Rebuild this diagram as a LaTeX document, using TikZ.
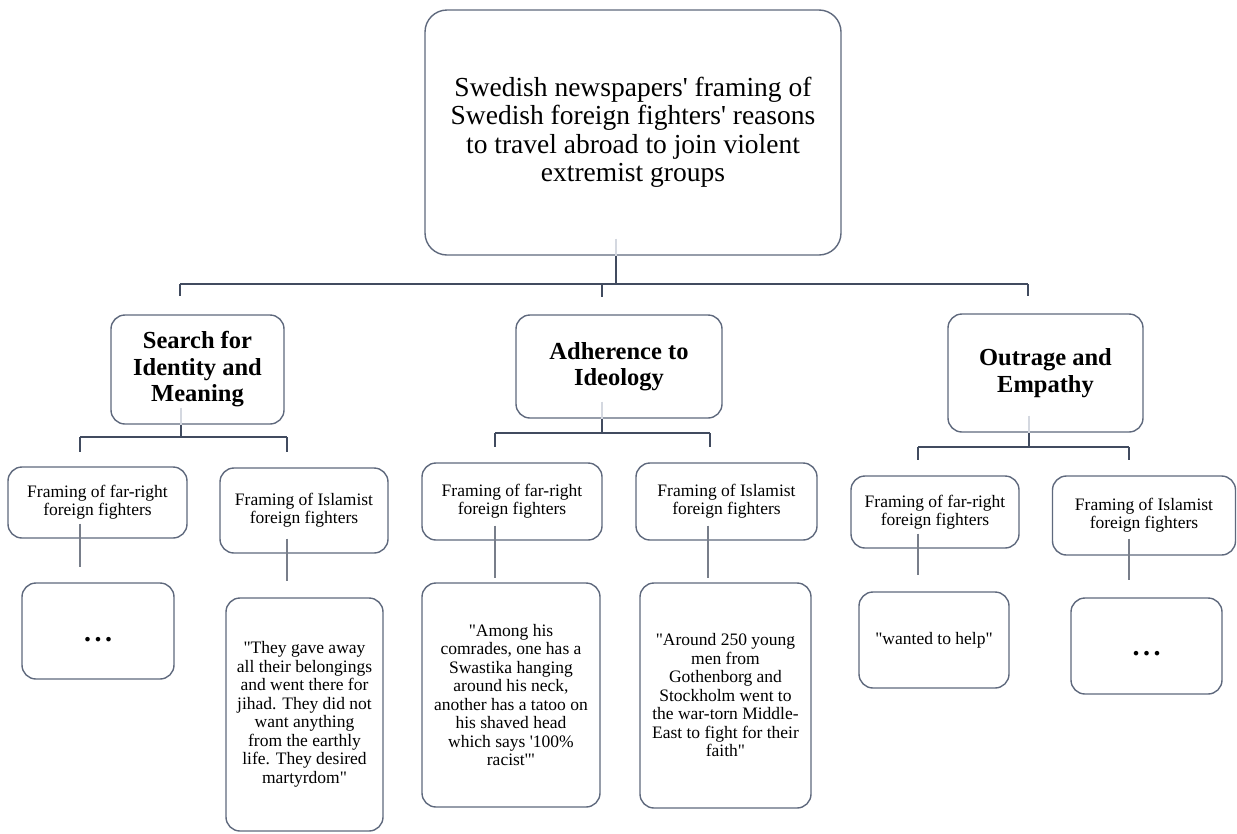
\documentclass[tikz,border=0pt]{standalone}
\usepackage{fontspec}
\setmainfont{Liberation Serif}
\usetikzlibrary{calc}
\definecolor{bordercol}{RGB}{95,105,125}
\definecolor{conncol}{RGB}{65,75,95}
\definecolor{stubcol}{RGB}{120,126,138}
\definecolor{faintcol}{RGB}{212,216,224}
\newcommand{\qq}{\textquotedbl}
\newcommand{\threedots}[1]{\raisebox{#1}[0pt][0pt]{.\hspace{3.5pt}.\hspace{3.5pt}.}}
\begin{document}
\begin{tikzpicture}[x=1pt,y=-1pt,
  box/.style={draw=bordercol, line width=1.4pt, rounded corners=14pt, fill=white, inner sep=0pt, align=center, text=black},
  topfont/.style={font=\fontsize{27.5}{28.5}\selectfont},
  catfont/.style={font=\bfseries\fontsize{24.5}{26.5}\selectfont},
  subfont/.style={font=\fontsize{17.5}{18}\selectfont},
  quotefont/.style={font=\fontsize{17.5}{18.5}\selectfont},
  dotsfont/.style={font=\bfseries\fontsize{28}{30}\selectfont},
  conn/.style={draw=conncol, line width=1.6pt},
  stub/.style={draw=stubcol, line width=1.5pt},
  faint/.style={draw=faintcol, line width=1.2pt}]
\useasboundingbox (0,0) rectangle (1237,833);

% top
\node[box, topfont, rounded corners=22pt, minimum width=416pt, minimum height=245pt] (top) at (633,132.5)
  {Swedish newspapers\textquotesingle{} framing of\\Swedish foreign fighters\textquotesingle{} reasons\\to travel abroad to join violent\\extremist groups};

% categories
\node[box, catfont, minimum width=173pt, minimum height=109pt] (search) at (197.5,369.5) {Search for\\Identity and\\Meaning};
\node[box, catfont, minimum width=206pt, minimum height=103pt] (adher) at (619,366.5) {Adherence to\\Ideology};
\node[box, catfont, minimum width=195pt, minimum height=118pt] (outr) at (1045.5,373) {Outrage and\\Empathy};

% sub boxes
\node[box, subfont, minimum width=179pt, minimum height=71pt] (fr1) at (97.5,502.5) {Framing of far-right\\foreign fighters};
\node[box, subfont, minimum width=168pt, minimum height=85pt] (is1) at (304,510.5) {Framing of Islamist\\foreign fighters};
\node[box, subfont, minimum width=180pt, minimum height=77pt] (fr2) at (512,501.5) {Framing of far-right\\foreign fighters};
\node[box, subfont, minimum width=181pt, minimum height=77pt] (is2) at (726.5,501.5) {Framing of Islamist\\foreign fighters};
\node[box, subfont, minimum width=168pt, minimum height=72pt] (fr3) at (935,512) {Framing of far-right\\foreign fighters};
\node[box, subfont, minimum width=183pt, minimum height=79pt] (is3) at (1144,515.5) {Framing of Islamist\\foreign fighters};

% quote boxes
\node[box, dotsfont, minimum width=152pt, minimum height=96pt] (q1) at (98,631) {\threedots{-10pt}};
\node[box, quotefont, minimum width=157pt, minimum height=233pt] (q2) at (304.5,714.5)
  {\qq They gave away\\all their belongings\\and went there for\\jihad. They did not\\want anything\\from the earthly\\life. They desired\\martyrdom\qq};
\node[box, quotefont, minimum width=178pt, minimum height=224pt] (q3) at (511,695)
  {\qq Among his\\comrades, one has a\\Swastika hanging\\around his neck,\\another has a tatoo on\\his shaved head\\which says \textquotesingle100\%\\racist\textquotesingle\qq};
\node[box, quotefont, minimum width=171pt, minimum height=225pt] (q4) at (725.5,695.5)
  {\qq Around 250 young\\men from\\Gothenborg and\\Stockholm went to\\the war-torn Middle-\\East to fight for their\\faith\qq};
\node[box, quotefont, minimum width=150pt, minimum height=96pt] (q5) at (934,640) {\qq wanted to help\qq};
\node[box, dotsfont, minimum width=151pt, minimum height=96pt] (q6) at (1146.5,646) {\threedots{-9pt}};

% top-level connectors
\coordinate (j0) at (616,284);
\coordinate (hL) at (180,284);
\coordinate (hM) at (602,284);
\coordinate (hR) at (1028,284);
\coordinate (dL) at (180,296);
\coordinate (dM) at (602,297);
\coordinate (dR) at (1028,296);
\draw[faint] ($(top.south -| j0)+(0,-17)$) -- (top.south -| j0);
\draw[conn] (top.south -| j0) -- (j0);
\draw[conn] (hL) -- (hR);
\draw[conn] (hL) -- (dL);
\draw[conn] (hM) -- (dM);
\draw[conn] (hR) -- (dR);

% search branch
\coordinate (sj) at (181,437);
\coordinate (sL) at (80,437);
\coordinate (sR) at (287,437);
\coordinate (sLd) at (80,452);
\coordinate (sRd) at (287,452);
\draw[faint] ($(search.south -| sj)+(0,-17)$) -- (search.south -| sj);
\draw[conn] (search.south -| sj) -- (sj);
\draw[conn] (sL) -- (sR);
\draw[conn] (sL) -- (sLd);
\draw[conn] (sR) -- (sRd);

% adherence branch
\coordinate (aj) at (602,433);
\coordinate (aL) at (495,433);
\coordinate (aR) at (710,433);
\coordinate (aLd) at (495,447);
\coordinate (aRd) at (710,447);
\draw[faint] ($(adher.south -| aj)+(0,-17)$) -- (adher.south -| aj);
\draw[conn] (adher.south -| aj) -- (aj);
\draw[conn] (aL) -- (aR);
\draw[conn] (aL) -- (aLd);
\draw[conn] (aR) -- (aRd);

% outrage branch
\coordinate (oj) at (1029,447);
\coordinate (oL) at (918,447);
\coordinate (oR) at (1129,447);
\coordinate (oLd) at (918,460);
\coordinate (oRd) at (1129,460);
\draw[faint] ($(outr.south -| oj)+(0,-17)$) -- (outr.south -| oj);
\draw[conn] (outr.south -| oj) -- (oj);
\draw[conn] (oL) -- (oR);
\draw[conn] (oL) -- (oLd);
\draw[conn] (oR) -- (oRd);

% lower stubs
\coordinate (e1) at (80,567);
\coordinate (e2) at (287,581);
\coordinate (e3) at (495,578);
\coordinate (e4) at (708,578);
\coordinate (e5) at (918,575);
\coordinate (e6) at (1129,580);
\draw[stub] ($(fr1.south -| e1)+(0,-15)$) -- (e1);
\draw[stub] ($(is1.south -| e2)+(0,-15)$) -- (e2);
\draw[stub] ($(fr2.south -| e3)+(0,-15)$) -- (e3);
\draw[stub] ($(is2.south -| e4)+(0,-15)$) -- (e4);
\draw[stub] ($(fr3.south -| e5)+(0,-15)$) -- (e5);
\draw[stub] ($(is3.south -| e6)+(0,-17)$) -- (e6);
\end{tikzpicture}
\end{document}
